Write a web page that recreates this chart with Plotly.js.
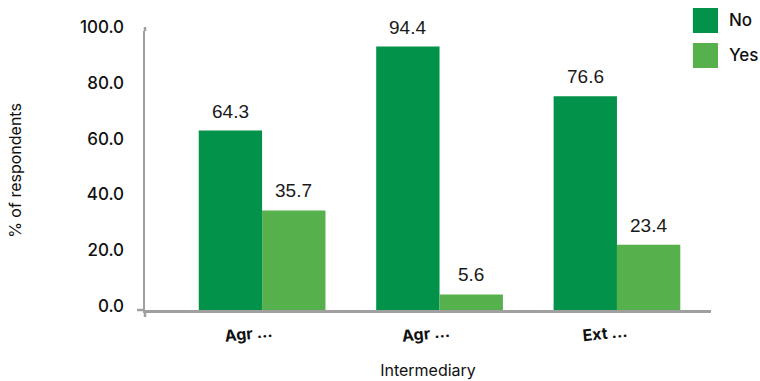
<!DOCTYPE html>
<html>
<head>
<meta charset="utf-8">
<script src="https://cdn.plot.ly/plotly-3.0.1.min.js"></script>
<style>html,body{margin:0;padding:0;background:#fff;}#chart{width:760px;height:381px;}</style>
</head>
<body>
<div id="chart"></div>
<script>
const categories = ["Agr ...", "Agr ...", "Ext ..."];
const seriesNames = ["No", "Yes"];
const noValues = [64.3, 94.4, 76.6];
const yesValues = [35.7, 5.6, 23.4];
const yTickVals = [0, 20, 40, 60, 80, 100];
const yTickText = ["0.0", "20.0", "40.0", "60.0", "80.0", "100.0"];

const colors = ["#03924a", "#56b04b"];
const xIdx = categories.map((_, i) => i);
const bargap = 0.286;
const barW = (1 - bargap) / 2;
const labelFont = {family: "Liberation Sans, Arial, sans-serif", size: 19, color: "#1a1a1a"};

const allSeries = [noValues, yesValues];
const traces = allSeries.map((vals, k) => ({
  type: "bar",
  name: seriesNames[k],
  x: xIdx,
  y: vals,
  marker: {color: colors[k]},
  hoverinfo: "none",
  showlegend: false
}));

// value labels above bars, placed through data coordinates
const valueLabels = [];
allSeries.forEach((vals, k) => {
  vals.forEach((v, i) => {
    valueLabels.push({
      xref: "x", yref: "y",
      x: xIdx[i] + (k - 0.5) * barW,
      y: v,
      text: v.toFixed(1),
      showarrow: false,
      yanchor: "bottom",
      yshift: 7,
      font: labelFont
    });
  });
});

const axisColor = "#a0a0a0";
const shapes = [
  // legend swatches
  {type: "rect", xref: "paper", yref: "paper", x0: 0.968, x1: 1.0124, y0: 1.0824, y1: 0.9928, fillcolor: colors[0], line: {width: 0}},
  {type: "rect", xref: "paper", yref: "paper", x0: 0.968, x1: 1.0124, y0: 0.957, y1: 0.8674, fillcolor: colors[1], line: {width: 0}},
  // axis extensions
  {type: "line", xref: "paper", yref: "paper", x0: -0.0141, x1: 0, y0: 0, y1: 0, line: {color: axisColor, width: 2.5}},
  {type: "line", xref: "paper", yref: "paper", x0: 0, x1: 0, y0: 0, y1: -0.025, line: {color: axisColor, width: 2.5}},
  {type: "line", xref: "paper", yref: "paper", x0: 0, x1: 0, y0: 1, y1: 1.0143, line: {color: axisColor, width: 2.5}}
];

const legendFont = {family: "Inter, sans-serif", size: 17, color: "#111", weight: 500};
const legendLabels = [
  {xref: "paper", yref: "paper", x: 1.029, y: 1.039, xanchor: "left", yanchor: "middle", text: seriesNames[0], showarrow: false, font: legendFont},
  {xref: "paper", yref: "paper", x: 1.029, y: 0.914, xanchor: "left", yanchor: "middle", text: seriesNames[1], showarrow: false, font: legendFont}
];

const layout = {
  width: 760, height: 381,
  margin: {l: 145, r: 49, t: 31, b: 71},
  paper_bgcolor: "#fff", plot_bgcolor: "#fff",
  barmode: "group",
  bargap: bargap,
  bargroupgap: 0,
  showlegend: false,
  font: {family: "Inter, sans-serif", color: "#111"},
  xaxis: {
    type: "linear",
    range: [-0.66, 2.53],
    tickvals: xIdx,
    ticktext: categories,
    tickangle: -6,
    tickfont: {family: "Inter, sans-serif", size: 16, color: "#111", weight: 700},
    ticks: "",
    ticklabelstandoff: 5,
    ticklabelshift: 10,
    showgrid: false, zeroline: false,
    showline: true, linecolor: axisColor, linewidth: 2.5,
    title: {text: "Intermediary", font: {family: "Inter, sans-serif", size: 16, color: "#111"}, standoff: 20},
    fixedrange: true
  },
  yaxis: {
    range: [0, 100],
    tickvals: yTickVals,
    ticktext: yTickText,
    tickfont: {family: "Inter, sans-serif", size: 17, color: "#111", weight: 500},
    ticks: "",
    ticklabelstandoff: 15,
    ticklabelshift: -4,
    showgrid: false, zeroline: false,
    showline: true, linecolor: axisColor, linewidth: 2.5,
    title: {text: "% of respondents", font: {family: "Inter, sans-serif", size: 16, color: "#111"}, standoff: 55},
    fixedrange: true
  },
  shapes: shapes,
  annotations: valueLabels.concat(legendLabels)
};

Plotly.newPlot("chart", traces, layout, {displayModeBar: false, staticPlot: true});
</script>
</body>
</html>
